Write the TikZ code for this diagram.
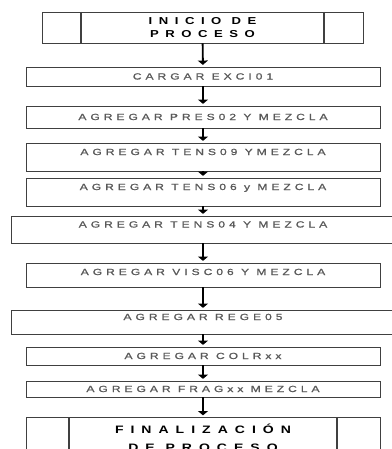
\documentclass[tikz,border=0pt]{standalone}
\usepackage{fontspec}
\setmainfont{Liberation Sans}
\newfontfamily\stepfont{Liberation Sans}[FakeStretch=1.35,FakeBold=1.2,LetterSpace=45]
\newfontfamily\titlefont{Liberation Sans}[FakeStretch=1.3,LetterSpace=65]
\usetikzlibrary{arrows.meta}

\begin{document}
\begin{tikzpicture}[
  x=0.03cm,
  y=-0.03cm,
  line/.style={draw=black!75,line width=0.8pt},
  arrow/.style={draw=black,line width=1.6pt,shorten >=0.05cm,-{Triangle[width=0.3cm,length=0.13cm]}},
  stepbox/.style={line,minimum width=10.62cm,inner sep=0pt,text height=0.18cm,text depth=0cm,
    font=\stepfont\fontsize{7.6}{9}\selectfont,text=black!65},
  tallbox/.style={stepbox,text depth=0.3cm},
  procbox/.style={line,inner sep=0pt,align=center,text=black,
    path picture={
      \draw[black!75,line width=1.2pt]
        ([xshift=#1]path picture bounding box.north west) -- ([xshift=#1]path picture bounding box.south west)
        ([xshift=-#1]path picture bounding box.north east) -- ([xshift=-#1]path picture bounding box.south east);
    }}
]
\useasboundingbox (0,0) rectangle (391,449);

% Start
\node[procbox=1.17cm,minimum width=9.63cm,minimum height=0.93cm,
  font=\titlefont\bfseries\fontsize{8.6}{10.4}\selectfont] (inicio) at (202.5,27.5)
  {INICIO DE\\PROCESO};

% Steps
\node[stepbox,minimum height=0.57cm] (exci) at (203,76.5) {CARGAR EXCI01};
\node[stepbox,minimum height=0.66cm] (pres) at (203,117) {AGREGAR PRES02 Y MEZCLA};
\node[tallbox,minimum height=0.84cm] (tens09) at (203,157) {AGREGAR TENS09 YMEZCLA};
\node[tallbox,minimum height=0.84cm] (tens06) at (203,192) {AGREGAR TENS06 y MEZCLA};
\node[tallbox,minimum width=11.52cm,minimum height=0.81cm] (tens04) at (203,229.5) {AGREGAR TENS04 Y MEZCLA};
\node[tallbox,text depth=0.18cm,minimum height=0.72cm] (visc) at (203,275) {AGREGAR VISC06 Y MEZCLA};
\node[tallbox,minimum width=11.52cm,minimum height=0.72cm] (rege) at (203,322) {AGREGAR REGE05};
\node[stepbox,minimum height=0.54cm] (colr) at (203,356) {AGREGAR COLRxx};
\node[stepbox,minimum height=0.48cm] (frag) at (203,389) {AGREGAR FRAGxx MEZCLA};

% End
\node[procbox=1.29cm,minimum width=10.62cm,anchor=north,inner ysep=0.2cm,
  font=\titlefont\bfseries\fontsize{9.2}{15.4}\selectfont] (fin) at (203,417)
  {FINALIZACIÓN\\DE PROCESO\\[0.4cm]};

% Connectors
\draw[arrow] (inicio) -- (exci);
\draw[arrow] (exci) -- (pres);
\draw[arrow] (pres) -- (tens09);
\draw[arrow] (tens09) -- (tens06);
\draw[arrow] (tens06) -- (tens04);
\draw[arrow] (tens04) -- (visc);
\draw[arrow] (visc) -- (rege);
\draw[arrow] (rege) -- (colr);
\draw[arrow] (colr) -- (frag);
\draw[arrow] (frag) -- (fin);

\end{tikzpicture}
\end{document}
